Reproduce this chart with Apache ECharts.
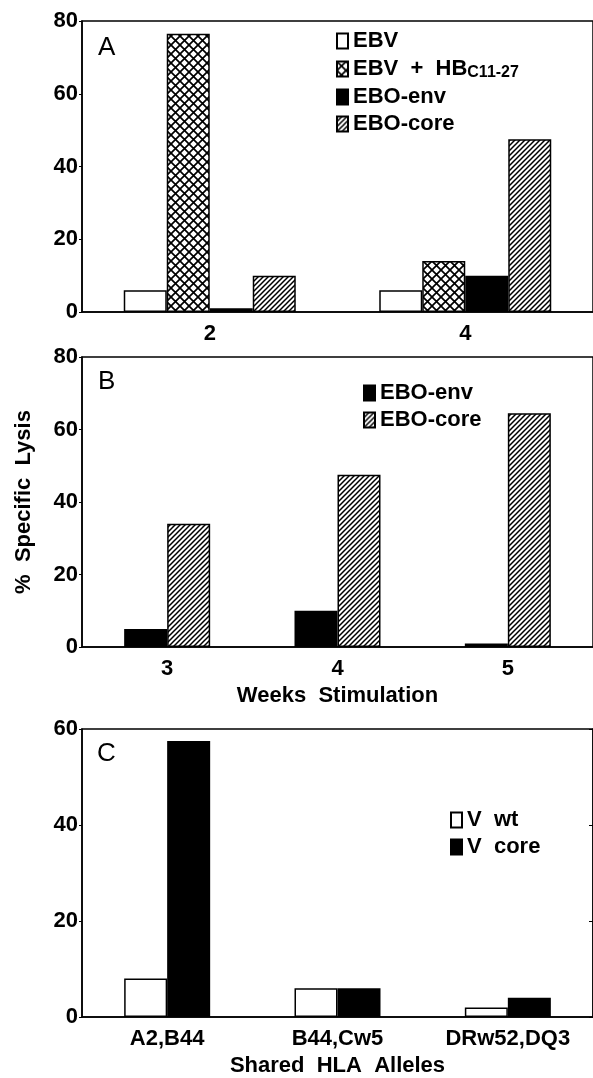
<!DOCTYPE html>
<html>
<head>
<meta charset="utf-8">
<script src="https://cdn.jsdelivr.net/npm/echarts@6/dist/echarts.min.js"></script>
<style>
  html, body { margin: 0; padding: 0; background: #fff; }
  #chart { width: 593px; height: 1078px; }
</style>
</head>
<body>
<div id="chart"></div>
<script>
// panel A
let weeksA = ['2', '4'];
let ebvA = [6, 6];
let ebvHbA = [76.5, 14];
let envA = [1, 10];
let coreA = [10, 47.5];
// panel B
let weeksB = ['3', '4', '5'];
let envB = [5, 10, 1];
let coreB = [34, 47.5, 64.5];
// panel C
let allelesC = ['A2,B44', 'B44,Cw5', 'DRw52,DQ3'];
let wtC = [8, 6, 2];
let vcoreC = [57.5, 6, 4];
let ticks80 = [0, 20, 40, 60, 80];
let ticks60 = [0, 20, 40, 60];

let font = '"Liberation Sans", Arial, sans-serif';

// hatch fills
function makeHatch() {
  let s = 5;
  let c = document.createElement('canvas');
  c.width = s; c.height = s;
  let ctx = c.getContext('2d');
  ctx.fillStyle = '#fff';
  ctx.fillRect(0, 0, s, s);
  ctx.strokeStyle = '#000';
  ctx.lineWidth = 1.5;
  ctx.beginPath();
  ctx.moveTo(-1, s + 1); ctx.lineTo(s + 1, -1);
  ctx.moveTo(-1, 1); ctx.lineTo(1, -1);
  ctx.moveTo(s - 1, s + 1); ctx.lineTo(s + 1, s - 1);
  ctx.stroke();
  return c;
}
function makeCross() {
  let s = 9;
  let c = document.createElement('canvas');
  c.width = s; c.height = s;
  let ctx = c.getContext('2d');
  ctx.fillStyle = '#fff';
  ctx.fillRect(0, 0, s, s);
  ctx.strokeStyle = '#000';
  ctx.lineWidth = 1.7;
  ctx.beginPath();
  ctx.moveTo(-1, -1); ctx.lineTo(s + 1, s + 1);
  ctx.moveTo(s + 1, -1); ctx.lineTo(-1, s + 1);
  ctx.stroke();
  return c;
}
let hatch = {image: makeHatch(), repeat: 'repeat'};
let cross = {image: makeCross(), repeat: 'repeat'};

let boxStyle = function (fill) {
  return {color: fill, borderColor: '#000', borderWidth: 1.5};
};

let labelStyle = {color: '#000', fontFamily: font, fontWeight: 'bold', fontSize: 22};

let grids = [
  {left: 82, top: 21, width: 520, height: 291},
  {left: 82, top: 357, width: 513, height: 290},
  {left: 82, top: 729, width: 512, height: 290}
];
grids.forEach(function (g) {
  g.show = true;
  g.borderColor = '#000';
  g.borderWidth = 1.5;
  g.backgroundColor = 'transparent';
});

let xAxisBase = function (idx, data, name) {
  return {
    type: 'category', gridIndex: idx, data: data,
    axisLine: {lineStyle: {color: '#000', width: 1.5}},
    axisTick: {show: false},
    axisLabel: Object.assign({margin: 11}, labelStyle),
    name: name, nameLocation: 'middle', nameGap: 38,
    nameTextStyle: labelStyle
  };
};
let yAxisBase = function (idx, max) {
  return {
    type: 'value', gridIndex: idx, min: 0, max: max, interval: 20,
    axisLine: {show: true, lineStyle: {color: '#000', width: 1.5}},
    axisTick: {show: true, length: 3, lineStyle: {color: '#000'}},
    splitLine: {show: false},
    axisLabel: Object.assign({margin: 4}, labelStyle)
  };
};

let yB = yAxisBase(1, ticks80[ticks80.length - 1]);
yB.name = '%  Specific  Lysis';
yB.nameLocation = 'middle';
yB.nameGap = 47;
yB.nameTextStyle = labelStyle;

// right-side ticks of panel C
let yCright = {
  type: 'value', gridIndex: 2, min: 0, max: ticks60[ticks60.length - 1], interval: 20,
  position: 'right',
  axisLine: {show: true, lineStyle: {color: '#000', width: 1.5}},
  axisTick: {show: true, inside: true, length: 4, lineStyle: {color: '#000'}},
  axisLabel: {show: false},
  splitLine: {show: false}
};

let bar = function (name, data, fill, xi, yi) {
  return {
    name: name, type: 'bar', data: data,
    xAxisIndex: xi, yAxisIndex: yi,
    barWidth: 43, barGap: '0%',
    itemStyle: boxStyle(fill),
    emphasis: {disabled: true},
    animation: false
  };
};

let legendText = {color: '#000', fontFamily: font, fontWeight: 'bold', fontSize: 22, lineHeight: 20};

let option = {
  backgroundColor: '#fff',
  animation: false,
  title: [
    {text: 'A', left: 93, top: 30},
    {text: 'B', left: 93, top: 364},
    {text: 'C', left: 92, top: 736}
  ].map(function (t) {
    t.textStyle = {color: '#000', fontFamily: font, fontWeight: 'normal', fontSize: 26};
    return t;
  }),
  grid: grids,
  xAxis: [
    xAxisBase(0, weeksA, ''),
    xAxisBase(1, weeksB, 'Weeks  Stimulation'),
    xAxisBase(2, allelesC, 'Shared  HLA  Alleles')
  ],
  yAxis: [
    yAxisBase(0, ticks80[ticks80.length - 1]),
    yB,
    yAxisBase(2, ticks60[ticks60.length - 1]),
    yCright
  ],
  legend: [
    {
      orient: 'vertical', left: 331, top: 25, icon: 'rect',
      itemWidth: 11, itemHeight: 15, itemGap: 5,
      selectedMode: false,
      data: ['EBV', 'EBV + HB', 'EBO-env', 'EBO-core'],
      formatter: function (n) {
        if (n === 'EBV + HB') return '{n|EBV  +  HB}{s|C11-27}';
        return n;
      },
      textStyle: Object.assign({
        rich: {
          n: {color: '#000', fontFamily: font, fontWeight: 'bold', fontSize: 22, lineHeight: 20},
          s: {color: '#000', fontFamily: font, fontWeight: 'bold', fontSize: 16, lineHeight: 14, padding: [8, 0, 0, 0]}
        }
      }, legendText)
    },
    {
      orient: 'vertical', left: 358, top: 377, icon: 'rect',
      itemWidth: 11, itemHeight: 15, itemGap: 5,
      selectedMode: false,
      data: ['EBO-env', 'EBO-core'],
      textStyle: legendText
    },
    {
      orient: 'vertical', left: 445, top: 804, icon: 'rect',
      itemWidth: 11, itemHeight: 15, itemGap: 5,
      selectedMode: false,
      data: ['V  wt', 'V  core'],
      textStyle: legendText
    }
  ],
  series: [
    bar('EBV', ebvA, '#fff', 0, 0),
    bar('EBV + HB', ebvHbA, cross, 0, 0),
    bar('EBO-env', envA, '#000', 0, 0),
    bar('EBO-core', coreA, hatch, 0, 0),
    bar('EBO-env', envB, '#000', 1, 1),
    bar('EBO-core', coreB, hatch, 1, 1),
    bar('V  wt', wtC, '#fff', 2, 2),
    bar('V  core', vcoreC, '#000', 2, 2)
  ]
};

let myChart = echarts.init(document.getElementById('chart'), null, {renderer: 'canvas'});
myChart.setOption(option);
</script>
</body>
</html>
